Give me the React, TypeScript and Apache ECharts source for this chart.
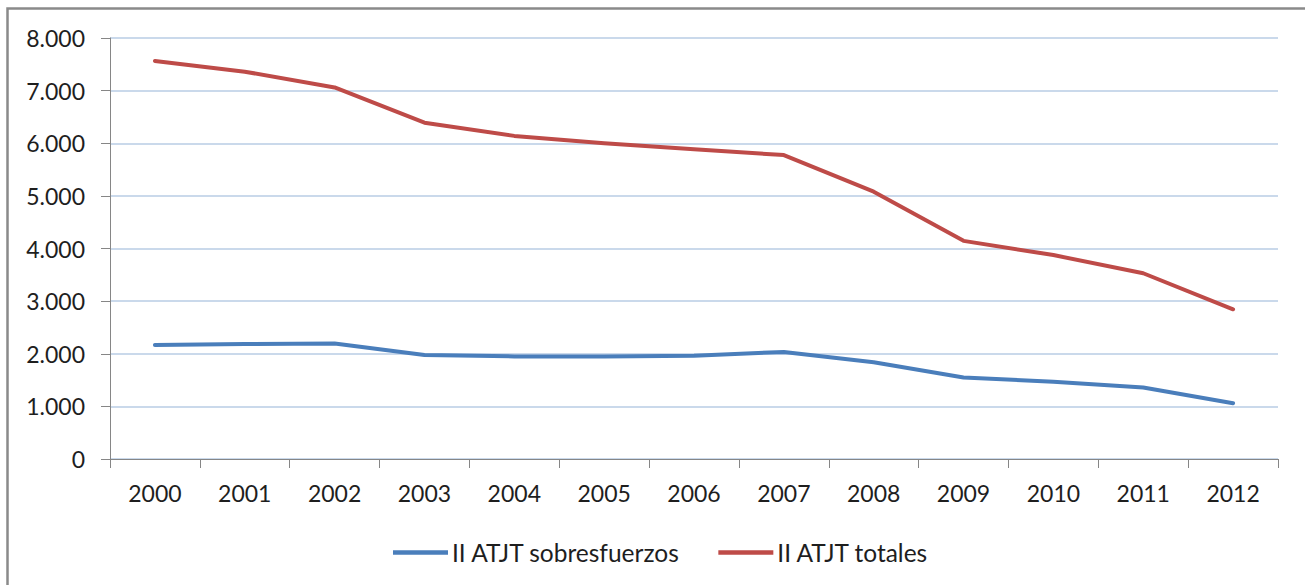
import React, { useEffect, useRef } from "react";
import * as echarts from "echarts";

const years = ["2000", "2001", "2002", "2003", "2004", "2005", "2006", "2007", "2008", "2009", "2010", "2011", "2012"];
const sobresfuerzos = [2165, 2185, 2195, 1975, 1950, 1950, 1960, 2035, 1840, 1550, 1470, 1360, 1060];
const totales = [7565, 7360, 7060, 6390, 6140, 6000, 5885, 5775, 5080, 4145, 3875, 3530, 2845];
const seriesNames = ["II ATJT sobresfuerzos", "II ATJT totales"];
const yTicks = { min: 0, max: 8000, interval: 1000 };

function fmt(v: number): string {
  return String(v).replace(/\B(?=(\d{3})+(?!\d))/g, ".");
}

export default function App() {
  const ref = useRef<HTMLDivElement>(null);
  useEffect(() => {
    const chart = echarts.init(ref.current!, null, { renderer: "svg" });
    const font = "Lato";
    chart.setOption({
      animation: false,
      backgroundColor: "#ffffff",
      color: ["#4a7ebb", "#be4b48"],
      graphic: [
        {
          type: "rect",
          shape: { x: 7.5, y: 8.5, width: 1400, height: 700 },
          style: { fill: "none", stroke: "#8a8a8a", lineWidth: 2.5 },
          silent: true,
        },
      ],
      grid: { left: 110, top: 38, right: 27, bottom: 126 },
      legend: {
        left: 388,
        top: 535,
        icon: "rect",
        itemWidth: 55,
        itemHeight: 4.5,
        itemGap: 38,
        textStyle: { fontFamily: font, fontSize: 24.5, color: "#1e1e1e", padding: [0, 0, 0, -1] },
        data: seriesNames,
      },
      xAxis: {
        type: "category",
        data: years,
        boundaryGap: true,
        axisLine: { lineStyle: { color: "#868686", width: 1 } },
        axisTick: { show: true, length: 9, lineStyle: { color: "#868686" } },
        axisLabel: { fontFamily: font, fontSize: 23, color: "#1e1e1e", margin: 22, interval: 0 },
        splitLine: { show: false },
      },
      yAxis: {
        type: "value",
        min: yTicks.min,
        max: yTicks.max,
        interval: yTicks.interval,
        axisLine: { show: true, lineStyle: { color: "#868686", width: 1 } },
        axisTick: { show: true, length: 9, lineStyle: { color: "#868686" } },
        axisLabel: { fontFamily: font, fontSize: 23, color: "#1e1e1e", margin: 25, formatter: (v: number) => fmt(v) },
        splitLine: { lineStyle: { color: "#b9cde5", width: 1.5 } },
      },
      series: [
        {
          name: seriesNames[0],
          type: "line",
          data: sobresfuerzos,
          showSymbol: false,
          symbol: "none",
          lineStyle: { width: 4, cap: "round", join: "round" },
        },
        {
          name: seriesNames[1],
          type: "line",
          data: totales,
          showSymbol: false,
          symbol: "none",
          lineStyle: { width: 4, cap: "round", join: "round" },
        },
      ],
    });
    return () => chart.dispose();
  }, []);
  return <div ref={ref} style={{ position: "fixed", left: 0, top: 0, width: 1305, height: 585 }} />;
}
